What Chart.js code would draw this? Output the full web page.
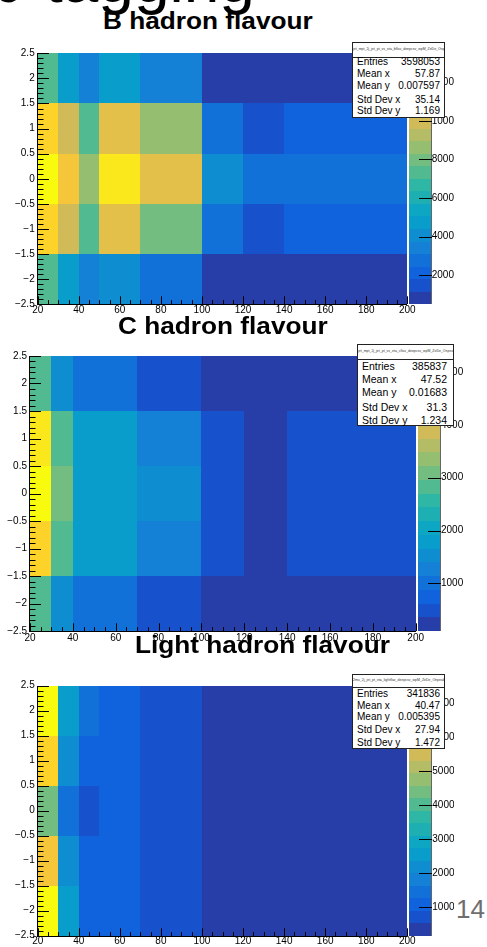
<!DOCTYPE html>
<html>
<head>
<meta charset="utf-8">
<title>b-tagging</title>
<script src="https://cdn.jsdelivr.net/npm/chart.js@4.4.1/dist/chart.umd.min.js"></script>
<style>
html,body{margin:0;padding:0;background:#fff;}
body{position:relative;width:487px;height:947px;overflow:hidden;font-family:'Liberation Sans',Arial,Helvetica,sans-serif;color:#000;}
canvas{position:absolute;left:0;}
.big{position:absolute;left:-12px;top:-52px;font-size:64px;line-height:64px;white-space:nowrap;}
.title{position:absolute;font-weight:bold;font-size:23px;line-height:23px;white-space:nowrap;transform-origin:0 0;transform:scaleX(1.14);}
.stats{position:absolute;background:#fff;border:1px solid #222;box-sizing:border-box;}
.stats .hdr{position:absolute;left:0;right:0;top:0;border-bottom:1px solid #222;font-size:3.5px;text-align:center;white-space:nowrap;overflow:hidden;color:#333;}
.stats .row{position:absolute;left:0;right:0;height:12px;line-height:12px;white-space:nowrap;}
.stats .lab{position:absolute;top:0;}
.stats .val{position:absolute;top:0;}
#page{position:absolute;left:456px;top:896px;font-size:26px;line-height:26px;color:#6e6e6e;}
</style>
</head>
<body>
<div class="big">b-tagging</div>
<canvas id="c1"></canvas>
<canvas id="c2"></canvas>
<canvas id="c3"></canvas>
<div class="title" style="left:103px;top:10px;">B hadron flavour</div>
<div class="title" style="left:118px;top:314.5px;">C hadron flavour</div>
<div class="title" style="left:135px;top:634px;">Light hadron flavour</div>
<div id="page">14</div>
<script>
// ---- bins (jet pT on x, jet eta on y) ----
const xEdges = [20, 30, 40, 50, 70, 100, 120, 140, 200];
const yEdges = [-2.5, -1.5, -0.5, 0.5, 1.5, 2.5];

// ---- bin contents, one row per eta bin from bottom (-2.5..-1.5) to top (1.5..2.5) ----
const bHadronCounts = [
  [7310, 4730, 3410, 4090, 2790, 870, 500, 980],
  [11880, 9930, 7320, 10560, 7960, 2780, 1490, 2140],
  [13500, 11230, 8640, 12510, 10570, 4080, 2770, 2790],
  [11870, 9920, 7330, 10590, 8630, 2760, 1480, 2150],
  [7300, 4720, 3420, 4710, 3430, 910, 560, 1020]
];
const cHadronCounts = [
  [2820, 1520, 1000, 1020, 480, 210, 100, 250],
  [4620, 2840, 1800, 1790, 1280, 500, 240, 470],
  [5300, 3100, 1810, 1780, 1540, 510, 250, 480],
  [4900, 2830, 1790, 1800, 1270, 490, 230, 500],
  [2850, 1540, 1020, 990, 500, 200, 120, 240]
];
const lightHadronCounts = [
  [7520, 2550, 1080, 1100, 730, 470, 290, 170],
  [6230, 2190, 1090, 1100, 720, 460, 280, 330],
  [4400, 1460, 720, 1090, 730, 450, 270, 320],
  [6600, 2190, 1080, 1100, 710, 470, 290, 340],
  [7340, 2560, 1460, 1090, 720, 480, 300, 350]
];

// ---- tick labels ----
const xTickValues = [20, 40, 60, 80, 100, 120, 140, 160, 180, 200];
const yTickValues = [-2.5, -2, -1.5, -1, -0.5, 0, 0.5, 1, 1.5, 2, 2.5];
const bZTicks = [2000, 4000, 6000, 8000, 10000, 12000];
const cZTicks = [1000, 2000, 3000, 4000, 5000];
const lightZTicks = [1000, 2000, 3000, 4000, 5000, 6000, 7000];

// ---- statistics boxes ----
const statLabels = ['Entries', 'Mean x', 'Mean y', 'Std Dev x', 'Std Dev y'];
const bStats = ['3598053', '57.87', '0.007597', '35.14', '1.169'];
const cStats = ['385837', '47.52', '0.01683', '31.3', '1.234'];
const lightStats = ['341836', '40.47', '0.005395', '27.94', '1.472'];
const bStatTitle = 'jet_mpt_2j_jet_pt_vs_eta_bflav_deepcsv_wpM_ZeDe_Onpeak';
const cStatTitle = 'jet_mpt_2j_jet_pt_vs_eta_cflav_deepcsv_wpM_ZeDe_Onpeak';
const lightStatTitle = '2mu_2j_jet_pt_eta_lightflav_deepcsv_wpM_ZeDe_Onpeak';

// ---- ROOT kBird palette ----
const birdStops = [0, 0.125, 0.25, 0.375, 0.5, 0.625, 0.75, 0.875, 1];
const birdR = [0.2082, 0.0592, 0.0780, 0.0232, 0.1802, 0.5301, 0.8186, 0.9956, 0.9764];
const birdG = [0.1664, 0.3599, 0.5041, 0.6419, 0.7178, 0.7492, 0.7328, 0.7862, 0.9832];
const birdB = [0.5293, 0.8684, 0.8385, 0.7914, 0.6425, 0.4662, 0.3499, 0.1968, 0.0539];
const NLEV = 20;

function birdColor(f) {
  f = Math.max(0, Math.min(1, f));
  let i = 0;
  while (i < birdStops.length - 2 && f > birdStops[i + 1]) i++;
  const t = (f - birdStops[i]) / (birdStops[i + 1] - birdStops[i]);
  const c = a => Math.round((a[i] + t * (a[i + 1] - a[i])) * 255);
  return 'rgb(' + c(birdR) + ',' + c(birdG) + ',' + c(birdB) + ')';
}
function levelColor(L) {
  const idx = Math.min(254, Math.floor((L + 0.99) * 255 / NLEV));
  return birdColor(idx / 254);
}
function valueLevel(v, zmin, zmax) {
  const L = Math.floor(0.01 + (v - zmin) * NLEV / (zmax - zmin));
  return Math.max(0, Math.min(NLEV - 1, L));
}

const FONT = {family: "'Liberation Sans', Arial, Helvetica, sans-serif", size: 10};
const fmtSigned = v => (v < 0 ? '\u2212' : '') + String(Math.abs(v));

const rootHistPlugin = {
  id: 'rootHist',
  beforeDatasetsDraw(chart) {
    const o = chart.options.plugins.rootHist;
    const ctx = chart.ctx, xs = chart.scales.x, ys = chart.scales.y;
    ctx.save();
    chart.data.datasets[0].data.forEach(c => {
      const px0 = Math.round(xs.getPixelForValue(c.x0)), px1 = Math.round(xs.getPixelForValue(c.x1));
      const py0 = Math.round(ys.getPixelForValue(c.y0)), py1 = Math.round(ys.getPixelForValue(c.y1));
      ctx.fillStyle = levelColor(valueLevel(c.v, o.zmin, o.zmax));
      ctx.fillRect(px0, py1, px1 - px0, py0 - py1);
    });
    ctx.restore();
  },
  afterDatasetsDraw(chart) {
    const o = chart.options.plugins.rootHist;
    const ctx = chart.ctx, a = chart.chartArea;
    const xs = chart.scales.x, ys = chart.scales.y, zs = chart.scales.z;
    ctx.save();
    // colour bar
    const bx0 = Math.round(a.right + o.barGap), bx1 = Math.round(a.right + o.barGap + o.barWidth);
    const step = (o.zmax - o.zmin) / NLEV;
    for (let k = 0; k < NLEV; k++) {
      const yb = Math.round(zs.getPixelForValue(o.zmin + k * step));
      const yt = Math.round(zs.getPixelForValue(o.zmin + (k + 1) * step));
      ctx.fillStyle = levelColor(k);
      ctx.fillRect(bx0, yt, bx1 - bx0, yb - yt);
    }
    ctx.lineWidth = 1;
    ctx.strokeStyle = '#666';
    ctx.beginPath();
    ctx.moveTo(bx1 + 0.5, Math.round(a.top));
    ctx.lineTo(bx1 + 0.5, Math.round(a.bottom));
    ctx.stroke();
    ctx.strokeStyle = '#000';
    o.zTicks.forEach(v => {
      const py = Math.round(zs.getPixelForValue(v)) + 0.5;
      ctx.beginPath();
      ctx.moveTo(bx1 - 12, py);
      ctx.lineTo(bx1 + 1, py);
      ctx.stroke();
    });
    // axes
    const L = Math.round(a.left), B = Math.round(a.bottom), R = Math.round(a.right), T = Math.round(a.top);
    ctx.strokeStyle = '#000';
    ctx.beginPath();
    ctx.moveTo(L - 0.5, T);
    ctx.lineTo(L - 0.5, B + 1);
    ctx.moveTo(L - 1, B + 0.5);
    ctx.lineTo(R, B + 0.5);
    ctx.stroke();
    // y ticks (major every 0.5, minor every 0.1)
    ctx.beginPath();
    for (let i = -25; i <= 25; i++) {
      const v = i / 10;
      const len = (i % 5 === 0) ? o.yTickLen : o.yTickLen / 2;
      const py = Math.round(ys.getPixelForValue(v)) + 0.5;
      ctx.moveTo(L, py);
      ctx.lineTo(L + len, py);
    }
    // x ticks (major every 20, minor every 5)
    for (let v = 20; v <= 200; v += 5) {
      const len = (v % 20 === 0) ? o.xTickLen : o.xTickLen / 2;
      const px = Math.round(xs.getPixelForValue(v)) + 0.5;
      ctx.moveTo(px, B);
      ctx.lineTo(px, B - len);
    }
    ctx.stroke();
    ctx.restore();
  }
};

function makePanel(id, counts, zTicks, g) {
  const canvas = document.getElementById(id);
  canvas.width = g.width; canvas.height = g.height;
  canvas.style.width = g.width + 'px'; canvas.style.height = g.height + 'px';
  canvas.style.top = g.top + 'px';
  const flat = counts.flat();
  const zmin = Math.min(...flat), zmax = Math.max(...flat);
  const cells = [];
  counts.forEach((row, j) => row.forEach((v, i) => {
    cells.push({
      x: (xEdges[i] + xEdges[i + 1]) / 2, y: (yEdges[j] + yEdges[j + 1]) / 2,
      x0: xEdges[i], x1: xEdges[i + 1], y0: yEdges[j], y1: yEdges[j + 1], v: v
    });
  }));
  return new Chart(canvas, {
    type: 'scatter',
    data: {datasets: [{data: cells, pointRadius: 0, pointHoverRadius: 0}]},
    options: {
      responsive: false, animation: false, events: [], devicePixelRatio: 1,
      layout: {padding: {top: g.plotTop - g.top, left: 0, right: 0, bottom: 0}},
      plugins: {
        legend: {display: false}, tooltip: {enabled: false}, title: {display: false},
        rootHist: {zmin: zmin, zmax: zmax, zTicks: zTicks, barGap: g.barGap, barWidth: g.barWidth,
                   yTickLen: 11, xTickLen: 7.7}
      },
      scales: {
        x: {
          type: 'linear', position: 'bottom', min: xEdges[0], max: xEdges[xEdges.length - 1],
          grid: {display: false, drawTicks: true, tickLength: g.xPad}, border: {display: false},
          afterBuildTicks: s => { s.ticks = xTickValues.map(v => ({value: v})); },
          afterFit: s => { s.height = g.top + g.height - g.plotBottom; },
          ticks: {autoSkip: false, maxRotation: 0, minRotation: 0, padding: 0, font: FONT, color: '#000',
                  callback: v => String(v)}
        },
        y: {
          type: 'linear', position: 'left', min: yEdges[0], max: yEdges[yEdges.length - 1],
          grid: {display: false, drawTicks: true, tickLength: 3}, border: {display: false},
          afterBuildTicks: s => { s.ticks = yTickValues.map(v => ({value: v})); },
          afterFit: s => { s.width = g.plotLeft; },
          ticks: {autoSkip: false, padding: 0, font: FONT, color: '#000', callback: v => fmtSigned(v)}
        },
        z: {
          type: 'linear', axis: 'y', position: 'right', min: zmin, max: zmax,
          grid: {display: false, drawTicks: true, tickLength: g.zPad}, border: {display: false},
          afterBuildTicks: s => { s.ticks = zTicks.map(v => ({value: v})); },
          afterFit: s => { s.width = g.width - g.plotRight; },
          ticks: {autoSkip: false, padding: 0, crossAlign: 'near', font: FONT, color: '#000',
                  callback: v => String(v)}
        }
      }
    },
    plugins: [rootHistPlugin]
  });
}

function makeStats(g, title, values) {
  const box = document.createElement('div');
  box.className = 'stats';
  Object.assign(box.style, {left: g.left + 'px', top: g.top + 'px', width: g.w + 'px', height: g.h + 'px'});
  const hdr = document.createElement('div');
  hdr.className = 'hdr';
  hdr.style.height = g.hdr + 'px';
  hdr.style.lineHeight = g.hdr + 'px';
  hdr.textContent = title;
  box.appendChild(hdr);
  statLabels.forEach((lab, i) => {
    const row = document.createElement('div');
    row.className = 'row';
    row.style.top = (g.rows[i] - 1 - 6) + 'px';
    row.style.fontSize = g.font + 'px';
    const l = document.createElement('span'); l.className = 'lab'; l.style.left = g.padL + 'px'; l.textContent = lab;
    const r = document.createElement('span'); r.className = 'val'; r.style.right = g.padR + 'px'; r.textContent = values[i];
    row.appendChild(l); row.appendChild(r);
    box.appendChild(row);
  });
  document.body.appendChild(box);
}

makePanel('c1', bHadronCounts, bZTicks,
  {top: 40, height: 285, width: 454, plotLeft: 37.7, plotTop: 53.3, plotRight: 407.3, plotBottom: 304.3,
   barGap: 1.7, barWidth: 22, zPad: 24.4, xPad: 0});
makePanel('c2', cHadronCounts, cZTicks,
  {top: 345, height: 306, width: 487, plotLeft: 30, plotTop: 356, plotRight: 415.7, plotBottom: 631,
   barGap: 2, barWidth: 22.3, zPad: 25.3, xPad: 1.4});
makePanel('c3', lightHadronCounts, lightZTicks,
  {top: 675, height: 272, width: 454, plotLeft: 37.7, plotTop: 685.7, plotRight: 407.3, plotBottom: 935.7,
   barGap: 1.7, barWidth: 22, zPad: 25, xPad: 0});

makeStats({left: 352, top: 42, w: 93, h: 76, hdr: 13.5, rows: [20.3, 32, 44, 57.6, 69.3], padL: 4, padR: 4, font: 10},
  bStatTitle, bStats);
makeStats({left: 357, top: 344, w: 97, h: 82, hdr: 13.5, rows: [22, 35.3, 47.7, 62.7, 76], padL: 4, padR: 6, font: 10.5},
  cStatTitle, cStats);
makeStats({left: 352, top: 674, w: 93, h: 75, hdr: 11.5, rows: [19.7, 31.7, 43.4, 56, 68.7], padL: 4, padR: 4, font: 10},
  lightStatTitle, lightStats);

// titles and page number above the canvases
document.querySelectorAll('.title, #page').forEach(el => document.body.appendChild(el));
</script>
</body>
</html>
